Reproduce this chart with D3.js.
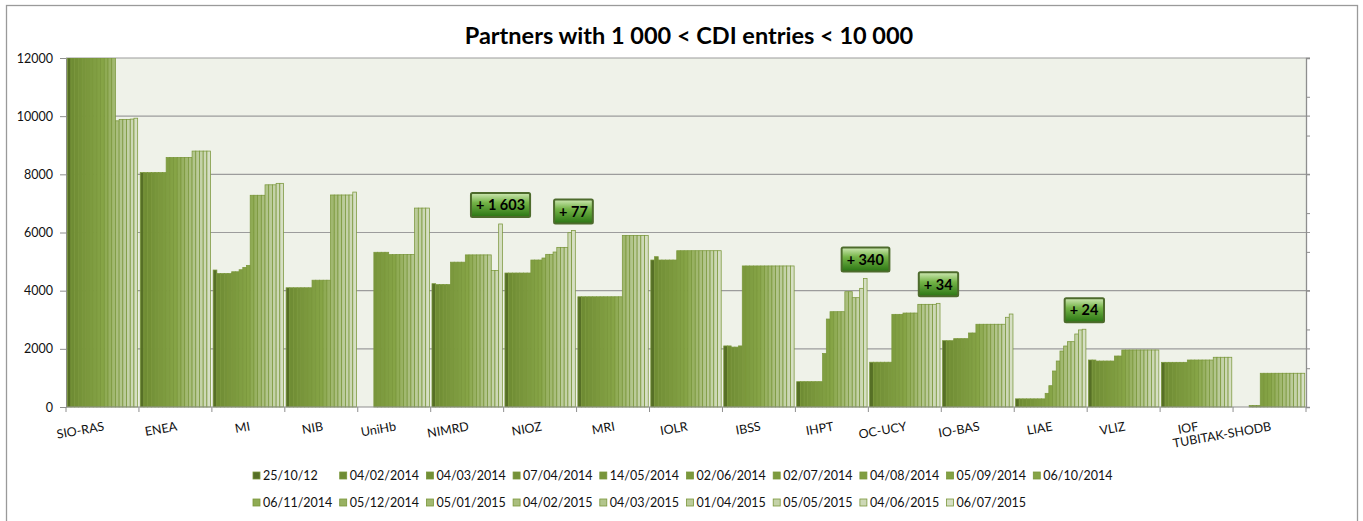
<!DOCTYPE html>
<html>
<head>
<meta charset="utf-8">
<script src="https://cdn.jsdelivr.net/npm/d3@7"></script>
<style>
  body { margin: 0; background: #fff; }
  text { font-family: Lato, "Open Sans", sans-serif; }
</style>
</head>
<body>
<script>
// categories (partners) and snapshot dates
const partners = ["SIO-RAS", "ENEA", "MI", "NIB", "UniHb", "NIMRD", "NIOZ", "MRI", "IOLR", "IBSS",
  "IHPT", "OC-UCY", "IO-BAS", "LIAE", "VLIZ", "IOF", "TUBITAK-SHODB"];
const dates = ["25/10/12", "04/02/2014", "04/03/2014", "07/04/2014", "14/05/2014", "02/06/2014",
  "02/07/2014", "04/08/2014", "05/09/2014", "06/10/2014", "06/11/2014", "05/12/2014", "05/01/2015",
  "04/02/2015", "04/03/2015", "01/04/2015", "05/05/2015", "04/06/2015", "06/07/2015"];

// CDI entries per partner, one value per date
const sioRas = [12600, 12600, 12600, 12600, 12600, 12600, 12600, 12600, 12600, 12600, 12600, 12600, 12600, 9840, 9890, 9890, 9890, 9900, 9930];
const enea = [8060, 8060, 8060, 8060, 8060, 8060, 8060, 8580, 8580, 8580, 8580, 8580, 8580, 8580, 8800, 8800, 8800, 8800, 8800];
const mi = [4710, 4590, 4590, 4590, 4590, 4650, 4650, 4720, 4800, 4870, 7280, 7280, 7280, 7280, 7640, 7640, 7640, 7690, 7690];
const nib = [4100, 4100, 4100, 4100, 4100, 4100, 4100, 4360, 4360, 4360, 4360, 4360, 7290, 7290, 7290, 7290, 7290, 7290, 7390];
const uniHb = [0, 0, 0, 0, 5320, 5320, 5320, 5320, 5240, 5240, 5240, 5240, 5240, 5240, 5240, 6840, 6840, 6840, 6840];
const nimrd = [4240, 4210, 4210, 4210, 4210, 4980, 4980, 4980, 4980, 5230, 5230, 5230, 5230, 5230, 5230, 5230, 4690, 4690, 6293];
const nioz = [4607, 4607, 4607, 4607, 4607, 4607, 4607, 5054, 5054, 5054, 5123, 5249, 5249, 5329, 5489, 5489, 5489, 5995, 6072];
const mri = [3790, 3790, 3790, 3790, 3790, 3790, 3790, 3790, 3790, 3790, 3790, 3790, 5900, 5900, 5900, 5900, 5900, 5900, 5900];
const iolr = [5054, 5168, 5054, 5054, 5054, 5054, 5054, 5374, 5374, 5374, 5374, 5374, 5374, 5374, 5374, 5374, 5374, 5374, 5374];
const ibss = [2100, 2100, 2060, 2060, 2100, 4850, 4850, 4850, 4850, 4850, 4850, 4850, 4850, 4850, 4850, 4850, 4850, 4850, 4850];
const ihpt = [871, 871, 871, 871, 871, 871, 871, 1840, 3025, 3277, 3277, 3277, 3277, 3965, 3965, 3759, 3759, 4080, 4420];
const ocUcy = [1540, 1540, 1540, 1540, 1540, 1540, 3186, 3186, 3186, 3231, 3231, 3231, 3231, 3530, 3530, 3530, 3530, 3530, 3564];
const ioBas = [2280, 2280, 2280, 2350, 2350, 2350, 2350, 2545, 2545, 2845, 2845, 2845, 2845, 2845, 2845, 2845, 2845, 3085, 3197];
const liae = [280, 280, 280, 280, 280, 280, 280, 280, 470, 733, 1238, 1581, 1925, 2097, 2246, 2246, 2510, 2650, 2674];
const vliz = [1616, 1616, 1581, 1581, 1581, 1581, 1581, 1753, 1753, 1960, 1960, 1960, 1960, 1960, 1960, 1960, 1960, 1960, 1960];
const iof = [1536, 1536, 1536, 1536, 1536, 1536, 1536, 1616, 1616, 1616, 1616, 1616, 1616, 1616, 1710, 1710, 1710, 1710, 1710];
const tubitak = [0, 0, 0, 0, 50, 50, 50, 1160, 1160, 1160, 1160, 1160, 1160, 1160, 1160, 1160, 1160, 1160, 1160];

const values = [sioRas, enea, mi, nib, uniHb, nimrd, nioz, mri, iolr, ibss, ihpt, ocUcy, ioBas, liae, vliz, iof, tubitak];

// call-out labels on the last bar of some partners
const gains = [
  {partner: "NIMRD", label: "+ 1 603"},
  {partner: "NIOZ", label: "+ 77"},
  {partner: "IHPT", label: "+ 340"},
  {partner: "OC-UCY", label: "+ 34"},
  {partner: "LIAE", label: "+ 24"}
];

const yTicks = [0, 2000, 4000, 6000, 8000, 10000, 12000];

const W = 1363, H = 521;
const margin = {top: 58, right: 57, bottom: 114, left: 66},
    width = W - margin.left - margin.right,
    height = H - margin.top - margin.bottom;

const svg = d3.select("body")
  .append("svg")
    .attr("width", W)
    .attr("height", H);

// outer chart border
svg.append("rect")
  .attr("x", 6.5).attr("y", 5.5)
  .attr("width", 1351).attr("height", 540)
  .attr("fill", "none")
  .attr("stroke", "#9a9a9a")
  .attr("stroke-width", 1.3);

const defs = svg.append("defs");
defs.append("clipPath").attr("id", "plotclip")
  .append("rect").attr("width", width).attr("height", height + 1);

const grad = defs.append("linearGradient").attr("id", "boxgrad")
  .attr("x1", 0).attr("y1", 0).attr("x2", 0).attr("y2", 1);
grad.append("stop").attr("offset", "0%").attr("stop-color", "#cfe8b4");
grad.append("stop").attr("offset", "40%").attr("stop-color", "#74b447");
grad.append("stop").attr("offset", "100%").attr("stop-color", "#2a7513");

const g = svg.append("g")
  .attr("transform", `translate(${margin.left}, ${margin.top})`);

// scales
const x0 = d3.scaleBand()
  .domain(partners)
  .range([0, width])
  .paddingInner(0.035)
  .paddingOuter(0.0175);

const x1 = d3.scaleBand()
  .domain(dates)
  .range([0, x0.bandwidth()]);

const y = d3.scaleLinear()
  .domain([0, 12000])
  .range([height, 0])
  .clamp(true);

const colour = d3.scaleLinear()
  .domain([0, 1, 9, 18])
  .range(["#566f26", "#6f8c34", "#86a446", "#d6dfc4"])
  .interpolate(d3.interpolateRgb);

// plot background
g.append("rect")
  .attr("width", width)
  .attr("height", height)
  .attr("fill", "#eff2e9");

// gridlines
g.append("g")
  .selectAll("line")
  .data(yTicks.slice(1))
  .join("line")
    .attr("x1", 0)
    .attr("x2", width + 4)
    .attr("y1", d => y(d))
    .attr("y2", d => y(d))
    .attr("stroke", "#9c9c9c")
    .attr("stroke-width", 1.2);

// left axis
const yAxis = g.append("g")
  .call(d3.axisLeft(y).tickValues(yTicks).tickSize(6).tickPadding(7).tickFormat(d3.format("d")));
yAxis.select(".domain").attr("stroke", "#8e8e8e");
yAxis.selectAll(".tick line").attr("stroke", "#8e8e8e");
yAxis.selectAll("text").attr("font-size", 12.5).attr("fill", "#111");

// right secondary axis (no labels)
const y2 = d3.scaleLinear().domain([0, 9]).range([height, 0]);
const yAxis2 = g.append("g")
  .attr("transform", `translate(${width}, 0)`)
  .call(d3.axisRight(y2).ticks(9).tickSize(4).tickFormat(""));
yAxis2.select(".domain").attr("stroke", "#8e8e8e").attr("stroke-width", 1.3);
yAxis2.selectAll(".tick line").attr("stroke", "#8e8e8e");

// bars
const bars = g.append("g").attr("clip-path", "url(#plotclip)");
bars.selectAll("g")
  .data(partners)
  .join("g")
    .attr("transform", d => `translate(${x0(d)}, 0)`)
  .selectAll("rect")
  .data((p, i) => dates.map((d, j) => ({date: d, j: j, value: values[i][j]})))
  .join("rect")
    .filter(d => d.value > 0)
    .attr("x", d => x1(d.date))
    .attr("width", x1.bandwidth())
    .attr("y", d => y(d.value))
    .attr("height", d => height - y(d.value))
    .attr("fill", d => colour(d.j))
    .attr("stroke", "#7a973b")
    .attr("stroke-width", 0.75);

// bottom axis with ticks between categories
g.append("line")
  .attr("x1", 0).attr("x2", width)
  .attr("y1", height).attr("y2", height)
  .attr("stroke", "#8e8e8e");
g.append("g")
  .selectAll("line")
  .data(d3.range(partners.length + 1))
  .join("line")
    .attr("x1", i => i * x0.step())
    .attr("x2", i => i * x0.step())
    .attr("y1", height)
    .attr("y2", height + 5)
    .attr("stroke", "#8e8e8e");

g.append("g")
  .selectAll("text")
  .data(partners)
  .join("text")
    .attr("transform", d => `translate(${x0(d) + x0.bandwidth() / 2 + 1}, ${height + 16}) rotate(-10)`)
    .attr("text-anchor", "end")
    .attr("dy", "0.6em")
    .attr("font-size", 12.5)
    .attr("fill", "#111")
    .text(d => d);

// call-out boxes
const callouts = g.append("g")
  .selectAll("g")
  .data(gains)
  .join("g")
    .attr("transform", d => {
      const i = partners.indexOf(d.partner);
      const last = dates[dates.length - 1];
      const cx = x0(d.partner) + x1(last) + x1.bandwidth() / 2;
      return `translate(${cx}, ${y(values[i][dates.length - 1]) - 19})`;
    });
callouts.append("text")
  .attr("text-anchor", "middle")
  .attr("dy", "0.36em")
  .attr("font-size", 14.5)
  .attr("font-weight", "bold")
  .attr("fill", "#000")
  .text(d => d.label);
callouts.each(function() {
  const box = d3.select(this).select("text").node().getBBox();
  d3.select(this).insert("rect", "text")
    .attr("x", box.x - 5)
    .attr("y", -12)
    .attr("width", box.width + 10)
    .attr("height", 24)
    .attr("rx", 1.5)
    .attr("fill", "url(#boxgrad)")
    .attr("stroke", "#4d6b2c")
    .attr("stroke-width", 2);
});

// title
svg.append("text")
  .attr("x", 689)
  .attr("y", 44)
  .attr("text-anchor", "middle")
  .attr("font-size", 23.5)
  .attr("font-weight", "bold")
  .attr("fill", "#000")
  .text("Partners with 1 000 < CDI entries < 10 000");

// legend: 10 equal columns per row
const colW = 86.7;
const legend = svg.append("g")
  .selectAll("g")
  .data(dates)
  .join("g")
    .attr("transform", (d, i) => `translate(${253 + (i % 10) * colW}, ${476 + Math.floor(i / 10) * 27})`);
legend.append("rect")
  .attr("x", 0).attr("y", -4)
  .attr("width", 7).attr("height", 7)
  .attr("fill", (d, i) => colour(i))
  .attr("stroke", "#7a973b")
  .attr("stroke-width", 0.8);
legend.append("text")
  .attr("x", 10)
  .attr("dy", "0.35em")
  .attr("font-size", 12.5)
  .attr("fill", "#111")
  .text(d => d);
</script>
</body>
</html>
